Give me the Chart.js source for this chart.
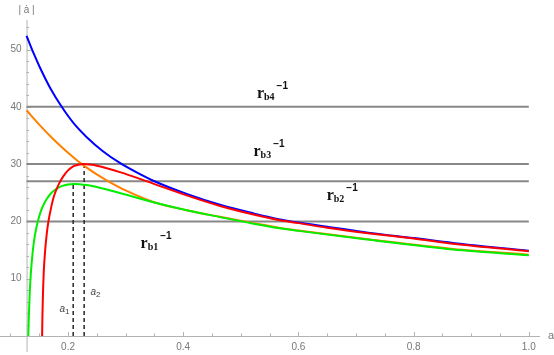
<!DOCTYPE html>
<html>
<head>
<meta charset="utf-8">
<script src="https://cdn.jsdelivr.net/npm/chart.js@4"></script>
<style>
  html, body { margin: 0; padding: 0; background: #fff; }
  #wrap { width: 554px; height: 355px; }
</style>
</head>
<body>
<div id="wrap"><canvas id="chart" width="554" height="355"></canvas></div>
<script>
// ---- data ----
const xBlue = [0.128, 0.14, 0.151, 0.17, 0.189, 0.21, 0.2325, 0.26, 0.29, 0.32, 0.348, 0.406, 0.464, 0.522, 0.568, 0.6, 0.65, 0.724, 0.8, 0.868, 1.0];
const yBlue = [52.4, 49.4, 46.9, 43.1, 40.0, 37.1, 34.7, 32.3, 30.2, 28.5, 27.1, 24.8, 22.9, 21.4, 20.35, 19.8, 19.05, 18.0, 17.1, 16.25, 14.9];

const xOrange = [0.128, 0.15, 0.175, 0.2, 0.224, 0.25, 0.27, 0.3, 0.348, 0.406, 0.464, 0.522, 0.568, 0.6, 0.724, 0.868, 1.0];
const yOrange = [39.4, 36.9, 34.3, 32.0, 30.0, 28.2, 27.0, 25.4, 23.4, 21.95, 20.8, 19.7, 18.85, 18.4, 16.85, 15.2, 14.2];

const xGreen = [0.131, 0.132, 0.1335, 0.1355, 0.138, 0.141, 0.145, 0.15, 0.156, 0.163, 0.171, 0.18, 0.19, 0.2, 0.21, 0.22, 0.232, 0.26, 0.29, 0.348, 0.406, 0.464, 0.522, 0.568, 0.6, 0.724, 0.868, 1.0];
const yGreen = [0, 3.5, 7.5, 11.0, 14.0, 16.6, 18.9, 20.9, 22.6, 23.9, 24.95, 25.7, 26.2, 26.45, 26.55, 26.5, 26.35, 25.75, 24.95, 23.35, 21.95, 20.75, 19.6, 18.8, 18.35, 16.8, 15.1, 14.1];

const xRed = [0.155, 0.1555, 0.156, 0.157, 0.158, 0.16, 0.163, 0.166, 0.17, 0.175, 0.18, 0.186, 0.192, 0.2, 0.209, 0.218, 0.227, 0.236, 0.245, 0.261, 0.29, 0.32, 0.348, 0.406, 0.464, 0.522, 0.568, 0.6, 0.65, 0.724, 0.8, 0.868, 1.0];
const yRed = [0, 3.0, 5.5, 9.0, 11.5, 14.6, 17.8, 20.0, 22.1, 24.2, 25.6, 26.9, 27.9, 28.9, 29.6, 29.9, 30.0, 29.95, 29.85, 29.45, 28.6, 27.6, 26.6, 24.55, 22.7, 21.2, 20.2, 19.7, 18.9, 17.9, 17.0, 16.1, 14.8];

const rbLevels = [20, 27, 30, 40];
const rbNames = ['b1', 'b2', 'b3', 'b4'];
const aMarks = [0.209, 0.228];
const aTops = [26.55, 30];
const aNames = ['1', '2'];

const yTickValues = [10, 20, 30, 40, 50];
const xTickValues = [0.2, 0.4, 0.6, 0.8, 1.0];
const xTickLabels = ['0.2', '0.4', '0.6', '0.8', '1.0'];

const axisX = 0.128;
const lineEnd = 1.0;

function pts(xs, ys) {
    return xs.map((x, i) => ({ x: x, y: ys[i] }));
}

const curve = (label, xs, ys, color) => ({
    label: label,
    data: pts(xs, ys),
    borderColor: color,
    borderWidth: 2,
    pointRadius: 0,
    cubicInterpolationMode: 'monotone',
    fill: false
});

const datasets = [
    curve('red', xRed, yRed, '#ff0000'),
    curve('green', xGreen, yGreen, '#00ee00'),
    curve('blue', xBlue, yBlue, '#0000ff'),
    curve('orange', xOrange, yOrange, '#ff8000')
];

aMarks.forEach((a, i) => {
    datasets.push({
        label: 'a' + aNames[i],
        data: [{ x: a, y: 0 }, { x: a, y: aTops[i] }],
        borderColor: '#333',
        borderWidth: 1.6,
        borderDash: [4, 3],
        pointRadius: 0
    });
});

rbLevels.forEach((lvl, i) => {
    datasets.push({
        label: 'r' + rbNames[i],
        data: [{ x: axisX, y: lvl }, { x: lineEnd, y: lvl }],
        borderColor: '#888',
        borderWidth: 2,
        pointRadius: 0
    });
});

// label anchors (data coords)
const rbPos = [[0.326, 15.4], [0.649, 23.7], [0.522, 31.4], [0.528, 41.6]];
const aPos = [[0.185, 4.2], [0.239, 7.2]];

// axes, ticks and annotations
const axesPlugin = {
    id: 'mmaAxes',
    beforeDatasetsDraw(chart) {
        const ctx = chart.ctx;
        const xs = chart.scales.x, ys = chart.scales.y;
        const area = chart.chartArea;
        const ax = xs.getPixelForValue(axisX);
        const ay = ys.getPixelForValue(0);
        ctx.save();
        ctx.strokeStyle = '#b3b3b3';
        ctx.lineWidth = 1;
        ctx.beginPath();
        ctx.moveTo(ax + 0.5, area.top);
        ctx.lineTo(ax + 0.5, area.bottom);
        ctx.moveTo(area.left, ay + 0.5);
        ctx.lineTo(area.right, ay + 0.5);
        // y ticks
        for (let v = 2; v <= 54; v += 2) {
            const py = Math.round(ys.getPixelForValue(v)) + 0.5;
            const len = v % 10 === 0 ? 4.5 : 2.5;
            ctx.moveTo(ax, py);
            ctx.lineTo(ax + len, py);
        }
        // x ticks
        for (let k = 2; k <= 20; k++) {
            const v = k * 0.05;
            const px = Math.round(xs.getPixelForValue(v)) + 0.5;
            const len = k % 4 === 0 ? 4 : 2.5;
            ctx.moveTo(px, ay);
            ctx.lineTo(px, ay - len);
        }
        ctx.stroke();

        ctx.fillStyle = '#777';
        ctx.font = '10px "Liberation Sans"';
        ctx.textAlign = 'right';
        ctx.textBaseline = 'middle';
        yTickValues.forEach(v => ctx.fillText(String(v), ax - 5, ys.getPixelForValue(v)));
        ctx.textAlign = 'center';
        ctx.textBaseline = 'top';
        xTickValues.forEach((v, i) => ctx.fillText(xTickLabels[i], xs.getPixelForValue(v), ay + 6));

        ctx.font = '11px "Liberation Sans"';
        ctx.textAlign = 'left';
        ctx.textBaseline = 'alphabetic';
        ctx.fillText('a', area.right + 8, ay + 3);
        ctx.textAlign = 'center';
        ctx.font = '10px "Liberation Sans"';
        ctx.fillText('| \u0227 |', ax, 13);
        ctx.restore();
    },
    afterDatasetsDraw(chart) {
        const ctx = chart.ctx;
        const xs = chart.scales.x, ys = chart.scales.y;
        ctx.save();
        ctx.fillStyle = '#111';
        ctx.textAlign = 'left';
        ctx.textBaseline = 'alphabetic';
        rbPos.forEach((p, i) => {
            const px = xs.getPixelForValue(p[0]);
            const py = ys.getPixelForValue(p[1]);
            ctx.font = 'bold 16px "Liberation Serif"';
            ctx.fillText('r', px, py);
            const w1 = ctx.measureText('r').width;
            ctx.font = 'bold 10px "Liberation Serif"';
            ctx.fillText(rbNames[i], px + w1, py + 2);
            const w2 = ctx.measureText(rbNames[i]).width;
            ctx.font = 'bold 10px "Liberation Sans"';
            ctx.fillText('\u22121', px + w1 + w2 + 2, py - 9);
        });
        ctx.fillStyle = '#444';
        aPos.forEach((p, i) => {
            const px = xs.getPixelForValue(p[0]);
            const py = ys.getPixelForValue(p[1]);
            ctx.font = 'italic 10px "Liberation Sans"';
            ctx.fillText('a', px, py);
            const w = ctx.measureText('a').width;
            ctx.font = '8px "Liberation Sans"';
            ctx.fillText(aNames[i], px + w, py + 2);
        });
        ctx.restore();
    }
};

new Chart(document.getElementById('chart'), {
    type: 'line',
    data: { datasets: datasets },
    options: {
        responsive: false,
        animation: false,
        layout: { padding: { left: 0, right: 14, top: 20, bottom: 3 } },
        plugins: {
            legend: { display: false },
            tooltip: { enabled: false }
        },
        scales: {
            x: { type: 'linear', min: 0.0819, max: 1.0194, display: false },
            y: { type: 'linear', min: -2.79, max: 55.15, display: false }
        }
    },
    plugins: [axesPlugin]
});
</script>
</body>
</html>
